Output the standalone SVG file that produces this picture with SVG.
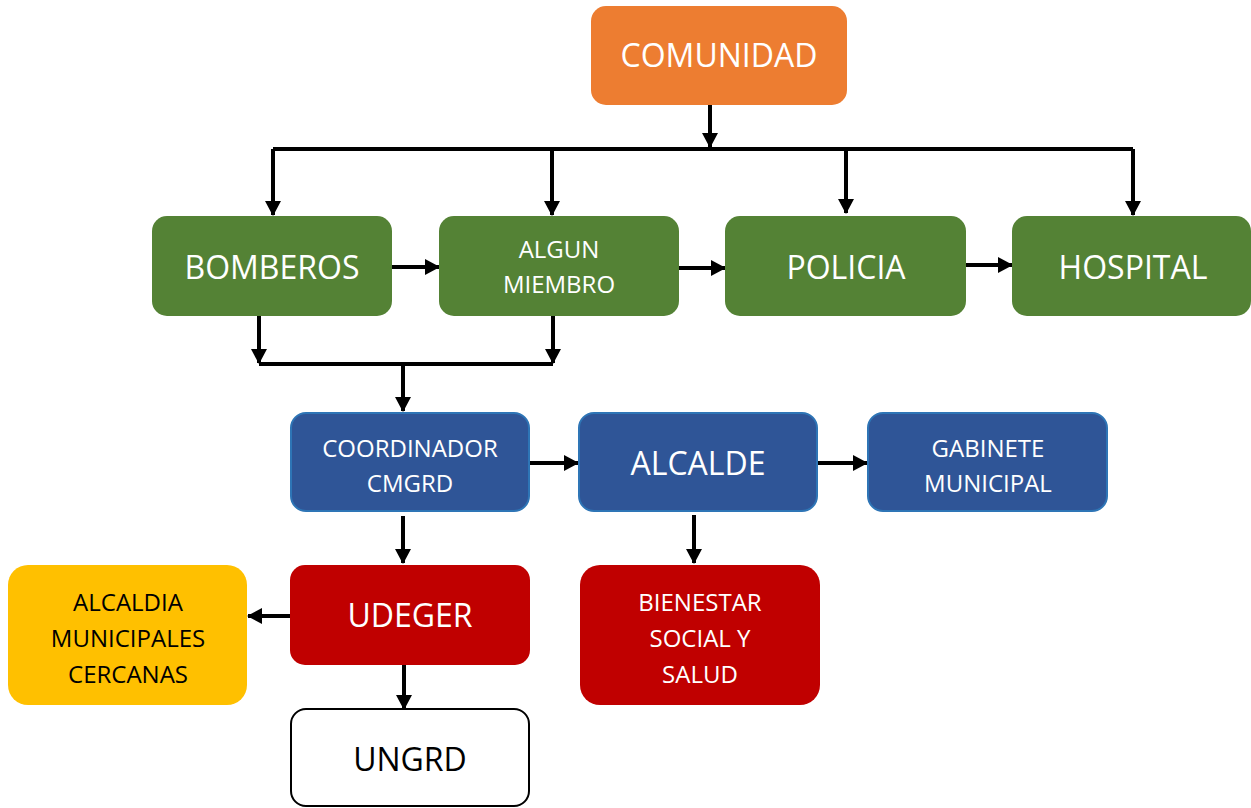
<svg xmlns="http://www.w3.org/2000/svg" width="1251" height="808" viewBox="0 0 1251 808">
<style>
.t{font-family:"Open Sans","Liberation Sans",sans-serif;text-anchor:middle;fill:#fff}
.big{font-size:32px}
.sm{font-size:24px}
.blk{fill:#000}
.c{stroke:#000;stroke-width:4;fill:none}
.g{fill:#548235}
.b{fill:#2F5597;stroke:#2E75B6;stroke-width:2}
.r{fill:#C00000}
</style>
<defs>
<marker id="ah" markerUnits="userSpaceOnUse" markerWidth="18" markerHeight="18" refX="14" refY="8" orient="auto">
<path d="M0,0 L15,8 L0,16 Z" fill="#000"/>
</marker>
</defs>
<g id="connectors">
<path class="c" d="M710,105 V147" marker-end="url(#ah)"/>
<path class="c" d="M273,149 H1133"/>
<path class="c" d="M273,149 V215" marker-end="url(#ah)"/>
<path class="c" d="M552,151 V215" marker-end="url(#ah)"/>
<path class="c" d="M846,149 V213" marker-end="url(#ah)"/>
<path class="c" d="M1133,149 V215" marker-end="url(#ah)"/>
<path class="c" d="M392,267 H439" marker-end="url(#ah)"/>
<path class="c" d="M679,268 H725" marker-end="url(#ah)"/>
<path class="c" d="M966,265 H1012" marker-end="url(#ah)"/>
<path class="c" d="M259,316 V363" marker-end="url(#ah)"/>
<path class="c" d="M553,316 V363" marker-end="url(#ah)"/>
<path class="c" d="M259,364 H553"/>
<path class="c" d="M403,364 V411" marker-end="url(#ah)"/>
<path class="c" d="M530,463 H578" marker-end="url(#ah)"/>
<path class="c" d="M818,463 H867" marker-end="url(#ah)"/>
<path class="c" d="M403,516 V563" marker-end="url(#ah)"/>
<path class="c" d="M694,515 V563" marker-end="url(#ah)"/>
<path class="c" d="M290,616 H248" marker-end="url(#ah)"/>
<path class="c" d="M404,665 V709" marker-end="url(#ah)"/>
</g>
<g id="comunidad"><rect x="591" y="6" width="256" height="99" rx="15" fill="#ED7D31"/><text class="t big" x="719" y="67">COMUNIDAD</text></g>
<g id="bomberos"><rect class="g" x="152" y="216" width="240" height="100" rx="15"/><text class="t big" x="272" y="279">BOMBEROS</text></g>
<g id="algun"><rect class="g" x="439" y="216" width="240" height="100" rx="15"/><text class="t sm" x="559" y="258">ALGUN</text><text class="t sm" x="559" y="293">MIEMBRO</text></g>
<g id="policia"><rect class="g" x="725" y="216" width="241" height="100" rx="15"/><text class="t big" x="846" y="279">POLICIA</text></g>
<g id="hospital"><rect class="g" x="1012" y="216" width="239" height="100" rx="15"/><text class="t big" x="1133" y="279">HOSPITAL</text></g>
<g id="coordinador"><rect class="b" x="291" y="413" width="238" height="98" rx="15"/><text class="t sm" x="410" y="457">COORDINADOR</text><text class="t sm" x="410" y="492">CMGRD</text></g>
<g id="alcalde"><rect class="b" x="579" y="413" width="238" height="98" rx="15"/><text class="t big" x="698" y="475">ALCALDE</text></g>
<g id="gabinete"><rect class="b" x="868" y="413" width="239" height="98" rx="15"/><text class="t sm" x="988" y="457">GABINETE</text><text class="t sm" x="988" y="492">MUNICIPAL</text></g>
<g id="udeger"><rect class="r" x="290" y="565" width="240" height="100" rx="15"/><text class="t big" x="410" y="627">UDEGER</text></g>
<g id="bienestar"><rect class="r" x="580" y="565" width="240" height="140" rx="20"/><text class="t sm" x="700" y="611">BIENESTAR</text><text class="t sm" x="700" y="647">SOCIAL Y</text><text class="t sm" x="700" y="683">SALUD</text></g>
<g id="alcaldia"><rect x="8" y="565" width="239" height="140" rx="20" fill="#FFC000"/><text class="t sm blk" x="128" y="611">ALCALDIA</text><text class="t sm blk" x="128" y="647">MUNICIPALES</text><text class="t sm blk" x="128" y="683">CERCANAS</text></g>
<g id="ungrd"><rect x="291" y="709" width="238" height="97" rx="15" fill="#fff" stroke="#000" stroke-width="2"/><text class="t big blk" x="410" y="771">UNGRD</text></g>
</svg>
